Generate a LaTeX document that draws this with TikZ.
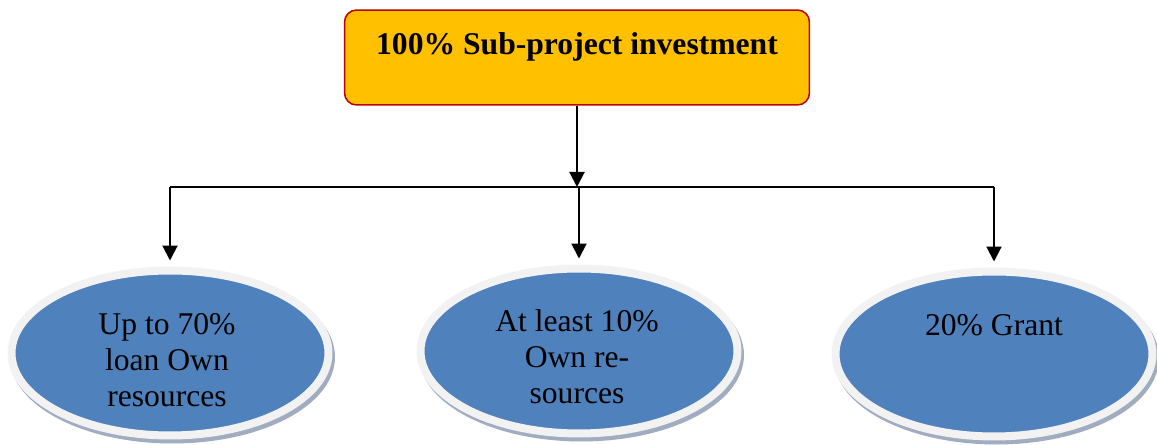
\documentclass[tikz,border=0pt]{standalone}
\usepackage{fontspec}
\setmainfont{Liberation Serif}
\usepackage{xcolor}
\usepackage{tikz}
\usetikzlibrary{shapes,arrows,positioning,calc,arrows.meta}

\definecolor{boxfill}{RGB}{255,192,0}
\definecolor{boxline}{RGB}{192,0,0}
\definecolor{discblue}{RGB}{79,129,189}
\definecolor{discring}{RGB}{242,242,242}
\definecolor{discshadow}{RGB}{160,172,192}

\tikzset{
  topbox/.style={draw=boxline, fill=boxfill, line width=0.03cm, rounded corners=0.24cm,
    minimum width=9.3cm, inner sep=0pt, text height=0.9cm, text depth=1.0cm,
    font=\rmfamily\bfseries\fontsize{18}{21}\selectfont},
  disc/.style={ellipse, draw=discring, fill=discblue, line width=0.16cm, inner sep=0pt,
    minimum width=6.34cm, minimum height=3.3cm,
    preaction={draw=discshadow, fill=discshadow, line width=0.16cm,
      transform canvas={shift={(0.05cm,-0.08cm)}}}},
  disctext/.style={align=center, inner sep=0pt, font=\rmfamily\fontsize{18}{20.5}\selectfont},
  arr/.style={line width=0.04cm, -{Triangle[width=0.3cm,length=0.3cm]}}
}

\begin{document}
\begin{tikzpicture}[x=0.02cm, y=-0.02cm]
        \useasboundingbox (0,0) rectangle (1157,445);
        % top box
        \node[topbox] (invest) at (577,57.5) {100\% Sub-project investment};
        \coordinate (split) at (577,187);
        % the three parts
        \node[disc] (loan) at (170,353) {};
        \node[disc] (own) at (579,351) {};
        \node[disc] (grant) at (994,354) {};
        \node[disctext] (loantxt) at (167,360) {Up to 70\%\\ loan Own\\ resources};
        \node[disctext] (owntxt) at (577,357) {At least 10\%\\ Own re-\\ sources};
        \node[disctext] (granttxt) at (994,325) {20\% Grant};
        % connectors
        \draw[arr] (invest) -- (split);
        \draw[line width=0.04cm] (split -| loan) -- (split -| grant);
        \foreach \n in {loan,own,grant} {
            \draw[arr, shorten >=0.12cm] (split -| \n) -- (\n.north);
        }
    \end{tikzpicture}
\end{document}
